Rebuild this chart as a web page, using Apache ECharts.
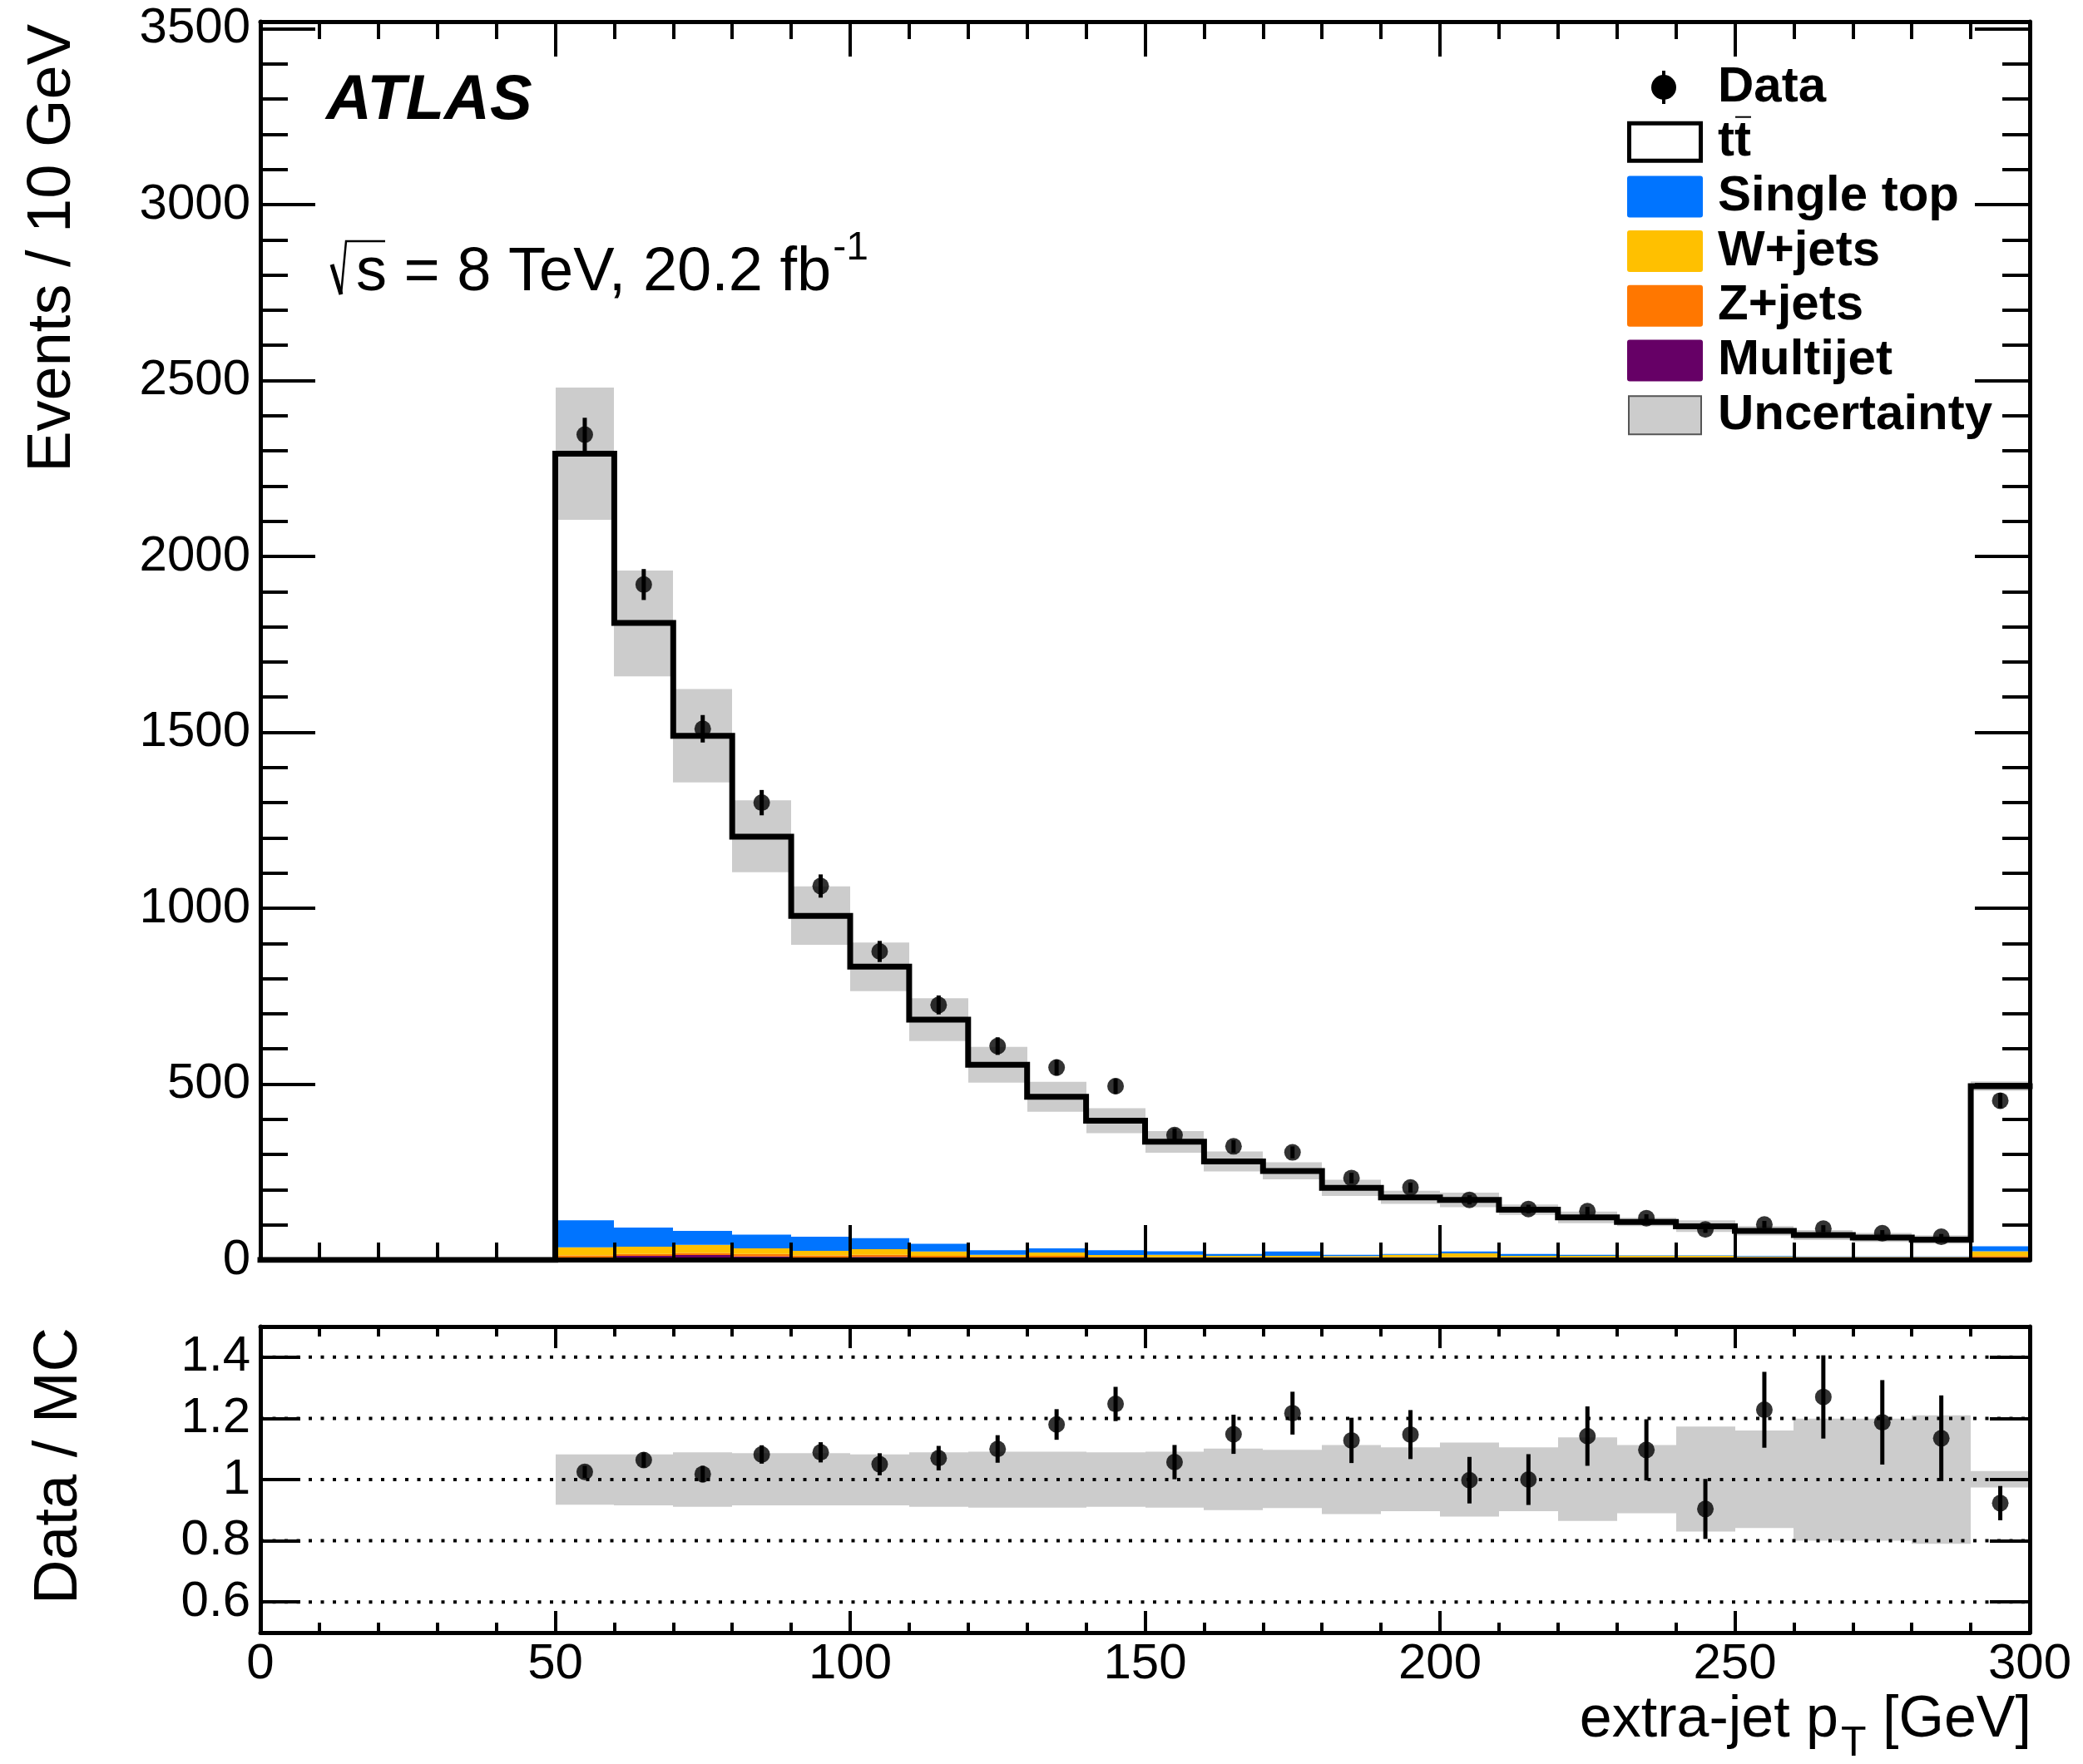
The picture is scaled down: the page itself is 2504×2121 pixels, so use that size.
<!DOCTYPE html>
<html><head><meta charset="utf-8">
<script src="https://cdn.jsdelivr.net/npm/echarts@6/dist/echarts.min.js"></script>
<style>html,body{margin:0;padding:0;background:#fff}#c{width:2504px;height:2121px}</style>
</head><body><div id="c"></div>
<script>
// ---------------- data ----------------
const binLow = [50,60,70,80,90,100,110,120,130,140,150,160,170,180,190,200,210,220,230,240,250,260,270,280,290];
const binWidth = 10;
const dataCounts = [2346,1920,1510,1300,1063,877,725,608,547,494,355,323,306,233,206,171,145,139,119,87,101,89,76,66,453];
const dataErr    = [48,44,39,36,33,30,27,25,23,22,19,18,17,15,14,13,12,12,11,10,10,10,9,8,22];
const ttbar      = [2179,1719,1407,1131,912,772,637,527,431,368,311,263,229,190,161,147,126,106,95,83,71,61,54,48,455];
const singleTop  = [77,54,40,39,40,31,22,13,12,14,10,5,12,4,2,5,5,3,1,1,2,1,1,1,14];
const wJets      = [23,21,23,16,13,16,12,5,9,5,7,4,4,3,7,11,4,4,4,4,2,1,1,1,14];
const zJets      = [9,5,6,7,6,6,7,6,9,6,5,5,5,5,5,5,5,5,5,5,5,5,5,5,6];
const multijet   = [4,12,14,10,7,9,5,4,3,3,3,3,3,3,3,3,3,3,3,3,3,3,3,3,5];
const uncUp      = [1.082,1.082,1.089,1.086,1.086,1.082,1.089,1.091,1.091,1.089,1.091,1.101,1.097,1.113,1.105,1.121,1.105,1.138,1.113,1.173,1.160,1.199,1.199,1.210,1.028];
const uncDown    = [0.918,0.916,0.911,0.916,0.916,0.916,0.911,0.908,0.908,0.911,0.908,0.900,0.907,0.887,0.897,0.879,0.897,0.865,0.890,0.830,0.842,0.800,0.800,0.790,0.974];
const ratio      = [1.025,1.064,1.018,1.082,1.089,1.05,1.07,1.10,1.18,1.247,1.057,1.148,1.217,1.128,1.147,0.998,1.0,1.142,1.097,0.904,1.228,1.27,1.187,1.135,0.923];
const ratioErr   = [0.02,0.025,0.027,0.03,0.033,0.036,0.04,0.045,0.05,0.056,0.056,0.064,0.07,0.074,0.08,0.076,0.083,0.097,0.1,0.098,0.124,0.136,0.138,0.14,0.056];

const xTickLabels   = [0,50,100,150,200,250,300];
const yMainMajor    = [0,500,1000,1500,2000,2500,3000,3500];
const yMainMinor    = [100,200,300,400,600,700,800,900,1100,1200,1300,1400,1600,1700,1800,1900,2100,2200,2300,2400,2600,2700,2800,2900,3100,3200,3300,3400];
const yRatioTicks   = [0.6,0.8,1,1.2,1.4];

const legendNames = ['Data','tt','Single top','W+jets','Z+jets','Multijet','Uncertainty'];
const colors = {single:'#0074ff', wjets:'#ffc000', zjets:'#ff7700', multi:'#660066', unc:'#cccccc'};

// ---------------- helpers ----------------
const FONT = '"Liberation Sans", Arial, Helvetica, sans-serif';
const mctx = document.createElement('canvas').getContext('2d');
function tw(text, font){ mctx.font = font; return mctx.measureText(text).width; }

const total = binLow.map((_,i)=> ttbar[i]+singleTop[i]+wJets[i]+zJets[i]+multijet[i]);

function rectSeries(name, items, color, xi, yi, z){
  return {
    type:'custom', name, xAxisIndex:xi, yAxisIndex:yi, z, silent:true, animation:false,
    encode:{x:[0,1], y:[2,3]}, data:items,
    renderItem:(params, api)=>{
      const p0 = api.coord([api.value(0), api.value(3)]);
      const p1 = api.coord([api.value(1), api.value(2)]);
      const x0 = Math.round(p0[0]), x1 = Math.round(p1[0]);
      return {type:'rect', shape:{x:x0, y:p0[1], width:x1-x0, height:p1[1]-p0[1]}, style:{fill:color}};
    }
  };
}
function errSeries(items, xi, yi, z){
  return {
    type:'custom', xAxisIndex:xi, yAxisIndex:yi, z, silent:true, animation:false,
    encode:{x:0, y:[1,2]}, data:items,
    renderItem:(params, api)=>{
      const a = api.coord([api.value(0), api.value(1)]);
      const b = api.coord([api.value(0), api.value(2)]);
      return {type:'line', shape:{x1:a[0], y1:a[1], x2:b[0], y2:b[1]}, style:{stroke:'#000', lineWidth:5}};
    }
  };
}

// stacked backgrounds (bottom to top)
const layers = [[multijet, colors.multi],[zJets, colors.zjets],[wJets, colors.wjets],[singleTop, colors.single]];
let base = binLow.map(()=>0);
const stackSeries = layers.map(([vals, col], k)=>{
  const items = binLow.map((lo,i)=>[lo, lo+binWidth, base[i], base[i]+vals[i]]);
  base = base.map((b,i)=>b+vals[i]);
  return rectSeries('bkg'+k, items, col, 0, 0, 2);
});

// total MC outline (tt on top of the stack)
const outline = [[0,0],[binLow[0],0]];
binLow.forEach((lo,i)=>{ outline.push([lo,total[i]]); outline.push([lo+binWidth,total[i]]); });

const bandMain = rectSeries('unc', binLow.map((lo,i)=>[lo, lo+binWidth, total[i]*uncDown[i], total[i]*uncUp[i]]), colors.unc, 0, 0, 3);
const bandRatio = rectSeries('uncR', binLow.map((lo,i)=>[lo, lo+binWidth, uncDown[i], uncUp[i]]), colors.unc, 3, 4, 2);

const centers = binLow.map(lo=>lo+binWidth/2);

const gridLinesRatio = {
  type:'custom', xAxisIndex:3, yAxisIndex:4, z:3, silent:true, animation:false,
  encode:{x:[0,1], y:2}, data: yRatioTicks.map(v=>[xTickLabels[0], xTickLabels[xTickLabels.length-1], v]),
  renderItem:(params, api)=>{
    const a = api.coord([api.value(0), api.value(2)]);
    const b = api.coord([api.value(1), api.value(2)]);
    return {type:'line', shape:{x1:a[0], y1:a[1], x2:b[0], y2:b[1]}, style:{stroke:'#000', lineWidth:4, lineDash:[4,10.5]}};
  }
};

// ---------------- axes ----------------
const tickStyle = {color:'#000', width:4};
function xAx(grid, pos, major, minor, labels, lineW){
  return {type:'value', gridIndex:grid, position:pos, min:0, max:300, interval:50, z:10,
    axisLine:{show:true, onZero:false, lineStyle:{color:'#000', width:lineW}},
    axisTick:{show:true, inside:true, length:major, lineStyle:tickStyle},
    minorTick:{show:true, splitNumber:5, length:minor, lineStyle:tickStyle},
    axisLabel:{show:labels, margin:8, color:'#000', fontSize:60, fontFamily:FONT},
    splitLine:{show:false}, minorSplitLine:{show:false}};
}
function yAx(grid, pos, min, max, ticks, len, labels, line, fmt){
  return {type:'value', gridIndex:grid, position:pos, min, max, z:10,
    axisLine:{show:line, onZero:false, lineStyle:{color:'#000', width:5}},
    axisTick:{show:true, inside:true, length:len, customValues:ticks, lineStyle:tickStyle},
    minorTick:{show:false},
    axisLabel:{show:labels, customValues:ticks, margin:12, color:'#000', fontSize:60, fontFamily:FONT, formatter:fmt},
    splitLine:{show:false}, minorSplitLine:{show:false}};
}
const fmtPlain = v=>String(v);

const xAxisList = [
  xAx(0,'bottom',42,21,false,6),
  xAx(0,'top',42,21,false,5),
  xAx(1,'top',26,12,false,5),
  xAx(1,'bottom',26,12,true,5)
];
const yAxisList = [
  yAx(0,'left',0,3520,yMainMajor,66,true,true,fmtPlain),
  yAx(0,'left',0,3520,yMainMinor,33,false,false),
  yAx(0,'right',0,3520,yMainMajor,66,false,true),
  yAx(0,'right',0,3520,yMainMinor,33,false,false),
  yAx(1,'left',0.5,1.5,yRatioTicks,48,true,true,fmtPlain),
  yAx(1,'right',0.5,1.5,yRatioTicks,48,false,true)
];

// ---------------- graphics (texts / legend) ----------------
const g = [];
const F = (w, s, st)=> (st||'') + ' ' + (w||'normal') + ' ' + s + 'px ' + FONT;
// ATLAS
g.push({type:'text', x:392, y:122, style:{text:'ATLAS', font:F('bold',76,'italic'), fill:'#000', align:'left', verticalAlign:'middle'}});
// sqrt(s) label
g.push({type:'polyline', shape:{points:[[399,318],[410,354]]}, style:{stroke:'#000', lineWidth:5, fill:null}});
g.push({type:'polyline', shape:{points:[[410,354],[416,290],[463,290]]}, style:{stroke:'#000', lineWidth:2.5, fill:null}});
const lumiText = 's = 8 TeV, 20.2 fb';
g.push({type:'text', x:428, y:329, style:{text:lumiText, font:F('normal',74), fill:'#000', align:'left', verticalAlign:'middle'}});
g.push({type:'text', x:428 + tw(lumiText, F('normal',74)) + 2, y:299, style:{text:'-1', font:F('normal',48), fill:'#000', align:'left', verticalAlign:'middle'}});

// axis titles
g.push({type:'text', x:64, y:29, rotation:Math.PI/2, style:{text:'Events / 10 GeV', font:F('normal',74), fill:'#000', align:'right', verticalAlign:'middle'}});
g.push({type:'text', x:72, y:1596, rotation:Math.PI/2, style:{text:'Data / MC', font:F('normal',74), fill:'#000', align:'right', verticalAlign:'middle'}});
(function(){
  const f1 = F('normal',70), f2 = F('normal',50);
  const a = 'extra-jet p', b = 'T', c = ' [GeV]';
  const w1 = tw(a,f1), w2 = tw(b,f2), w3 = tw(c,f1);
  const x0 = 2442 - (w1 + 3 + w2 + w3);
  g.push({type:'text', x:x0, y:2069, style:{text:a, font:f1, fill:'#000', align:'left', verticalAlign:'middle'}});
  g.push({type:'text', x:x0+w1+3, y:2097, style:{text:b, font:f2, fill:'#000', align:'left', verticalAlign:'middle'}});
  g.push({type:'text', x:x0+w1+3+w2, y:2069, style:{text:c, font:f1, fill:'#000', align:'left', verticalAlign:'middle'}});
})();

// legend
const legX = 2065, legY0 = 105, legDy = 65.7;
const legFont = F('bold',60);
legendNames.forEach((name,i)=>{
  const cy = legY0 + i*legDy;
  g.push({type:'text', x:legX, y:cy, style:{text:name, font:legFont, fill:'#000', align:'left', verticalAlign:'middle'}});
  if (i===0){
    g.push({type:'line', shape:{x1:2000, y1:cy-20, x2:2000, y2:cy+20}, style:{stroke:'#000', lineWidth:4}});
    g.push({type:'circle', shape:{cx:2000, cy:cy, r:15}, style:{fill:'#000'}});
  } else if (i===1){
    g.push({type:'rect', shape:{x:1958.5, y:cy-22.5, width:86, height:45}, style:{fill:'#fff', stroke:'#000', lineWidth:5}});
    const wt = tw('t', legFont);
    g.push({type:'line', shape:{x1:legX+wt+1, y1:cy-30, x2:legX+2*wt, y2:cy-30}, style:{stroke:'#000', lineWidth:2}});
  } else if (i===6){
    g.push({type:'rect', shape:{x:1958, y:cy-23, width:87, height:46}, style:{fill:colors.unc, stroke:'#555', lineWidth:2}});
  } else {
    const col = [null,null,colors.single,colors.wjets,colors.zjets,colors.multi][i];
    g.push({type:'rect', shape:{x:1956, y:cy-25, width:91, height:50, r:3}, style:{fill:col}});
  }
});

// ---------------- option ----------------
const option = {
  animation:false,
  backgroundColor:'#fff',
  textStyle:{fontFamily:FONT},
  grid:[
    {left:313, top:26, width:2127, height:1489, outerBoundsMode:'none', containLabel:false},
    {left:313, top:1595, width:2127, height:368, outerBoundsMode:'none', containLabel:false}
  ],
  xAxis: xAxisList,
  yAxis: yAxisList,
  series: [
    ...stackSeries,
    bandMain,
    {type:'line', xAxisIndex:0, yAxisIndex:0, z:4, data:outline, showSymbol:false, symbol:'none', silent:true, animation:false,
     lineStyle:{color:'#000', width:7, join:'miter', cap:'square'}},
    errSeries(centers.map((c,i)=>[c, dataCounts[i]-dataErr[i], dataCounts[i]+dataErr[i]]), 0, 0, 5),
    {type:'scatter', xAxisIndex:0, yAxisIndex:0, z:6, symbol:'circle', symbolSize:20, silent:true, animation:false,
     itemStyle:{color:'#000'}, data:centers.map((c,i)=>[c, dataCounts[i]])},
    bandRatio,
    gridLinesRatio,
    errSeries(centers.map((c,i)=>[c, ratio[i]-ratioErr[i], ratio[i]+ratioErr[i]]), 3, 4, 5),
    {type:'scatter', xAxisIndex:3, yAxisIndex:4, z:6, symbol:'circle', symbolSize:20, silent:true, animation:false,
     itemStyle:{color:'#000'}, data:centers.map((c,i)=>[c, ratio[i]])}
  ],
  graphic: g
};

const chart = echarts.init(document.getElementById('c'), null, {renderer:'canvas', width:2504, height:2121});
chart.setOption(option);
</script>
</body></html>
